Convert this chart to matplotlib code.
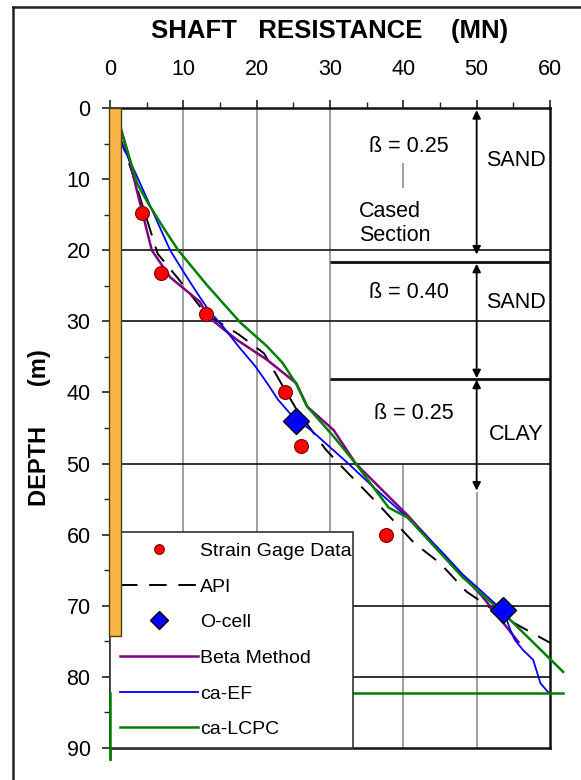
import matplotlib
matplotlib.use("Agg")
import matplotlib.pyplot as plt
from matplotlib.patches import Rectangle
from matplotlib.lines import Line2D
from matplotlib.ticker import MultipleLocator

plt.rcParams['font.family'] = ['Liberation Sans', 'DejaVu Sans']

# ---------------- data ----------------
strain_load = [4.4, 6.9, 13.1, 23.9, 26.0, 37.6]
strain_depth = [14.8, 23.2, 28.9, 40.0, 47.5, 60.1]

ocell_load = [25.4, 53.6]
ocell_depth = [44.0, 70.6]

api_load = [0, 3.0, 6.5, 9.3, 13.1, 17.5, 21.0, 23.5, 25.5, 29.4, 31.2, 36.2, 41.5, 45.0, 48.6, 54.0, 60.0]
api_depth = [0, 9.0, 20.5, 24.0, 29.0, 31.8, 34.5, 39.0, 42.5, 48.0, 50.0, 55.3, 61.2, 64.0, 68.0, 71.8, 75.2]

beta_load = [0, 1.5, 2.7, 4.0, 5.7, 8.2, 12.3, 13.3, 17.3, 21.4, 25.4, 26.9, 30.5, 33.5, 40.6, 45.6, 50.7, 55.7]
beta_depth = [0, 3.0, 7.5, 13.0, 20.0, 23.8, 27.3, 29.3, 32.6, 35.4, 38.7, 42.0, 45.3, 50.0, 57.3, 63.0, 68.6, 75.1]

ef_load = [0, 1.7, 3.5, 5.2, 6.8, 8.2, 10.0, 11.8, 13.5, 15.3, 17.5, 19.8, 21.5, 22.9, 25.0, 27.4,
           30.0, 32.5, 36.0, 39.5, 42.5, 45.6, 48.0, 50.7, 52.3, 53.6, 54.6, 55.2, 56.3, 57.7, 58.7, 59.8]
ef_depth = [0, 5.3, 9.2, 13.1, 16.8, 20.0, 23.0, 25.9, 28.5, 30.6, 33.5, 36.3, 38.8, 41.0, 43.5, 45.3,
            47.7, 50.0, 53.4, 56.6, 59.5, 62.8, 65.5, 68.0, 69.5, 70.6, 73.4, 74.8, 76.2, 77.6, 80.9, 82.2]

lcpc_load = [0, 1.5, 3.7, 5.2, 7.2, 9.3, 13.3, 17.8, 21.4, 23.5, 25.4, 26.9, 30.5, 33.5, 38.0, 40.6, 48.1, 53.6, 61.8]
lcpc_depth = [0, 3.0, 10.6, 13.4, 16.7, 20.0, 25.0, 30.2, 33.5, 35.8, 38.8, 42.0, 46.2, 50.0, 56.2, 57.6, 66.0, 71.0, 79.3]
lcpc_tail_load = [61.8, 0, 0]
lcpc_tail_depth = [82.2, 82.2, 91.5]

pile_width = 1.6
pile_length = 74.3

x_ticks = [0, 10, 20, 30, 40, 50, 60]
y_ticks = [0, 10, 20, 30, 40, 50, 60, 70, 80, 90]

# ---------------- figure ----------------
fig = plt.figure(figsize=(5.81, 7.80), dpi=100)
W, H = 581, 780
ax = fig.add_axes([110 / W, 1 - 748 / H, 440 / W, 640 / H])
ax.set_xlim(0, 60)
ax.set_ylim(90, 0)
ax.xaxis.tick_top()
ax.set_xticks(x_ticks)
ax.set_yticks(y_ticks)
ax.xaxis.set_minor_locator(MultipleLocator(5))
ax.yaxis.set_minor_locator(MultipleLocator(5))
ax.tick_params(which='major', direction='out', length=6, width=1.2, labelsize=15.5, color='#222222')
ax.tick_params(axis='x', which='major', pad=14)
ax.tick_params(axis='y', which='major', pad=8)
ax.tick_params(which='minor', direction='out', length=4, width=1.0, color='#222222')
for s in ax.spines.values():
    s.set_linewidth(1.8)
    s.set_color('#111111')

# grid lines
grid_c = '#a0a0a0'
for x in [10, 20, 30]:
    ax.axvline(x, color=grid_c, lw=1.4, zorder=1)
ax.vlines([40, 40], [7.8, 50.0], [11.3, 90], color=grid_c, lw=1.4, zorder=1)
ax.vlines([50], [54.0], [90], color=grid_c, lw=1.4, zorder=1)
for y in [20, 30, 50, 70, 80]:
    ax.axhline(y, color='#222222', lw=1.3, zorder=1.5)
ax.hlines([21.7, 38.1], 30, 60, color='#111111', lw=2.0, zorder=1.5)

# arrows
for y0, y1 in [(0.3, 20.6), (21.9, 38.0), (38.2, 53.8)]:
    ax.annotate('', xy=(50, y1), xytext=(50, y0),
                arrowprops=dict(arrowstyle='<|-|>', color='black', lw=1.3,
                                mutation_scale=12, shrinkA=0, shrinkB=0), zorder=3)

# annotations
tkw = dict(fontsize=15.5, ha='center', va='center', color='black', zorder=3)
ax.text(40.7, 5.4, 'ß = 0.25', **tkw)
ax.text(55.3, 7.4, 'SAND', **tkw)
ax.text(34.0, 16.2, 'Cased\nSection', fontsize=15.5, ha='left', va='center', linespacing=1.2, zorder=3)
ax.text(40.7, 26.0, 'ß = 0.40', **tkw)
ax.text(55.3, 27.4, 'SAND', **tkw)
ax.text(41.4, 43.0, 'ß = 0.25', **tkw)
ax.text(55.4, 45.9, 'CLAY', **tkw)

# series
l_api, = ax.plot(api_load, api_depth, color='black', lw=1.4, dashes=(9, 6), label='API', zorder=4)
l_beta, = ax.plot(beta_load, beta_depth, color='#800080', lw=1.8, label='Beta Method', zorder=4)
l_ef, = ax.plot(ef_load, ef_depth, color='#0000ff', lw=1.3, label='ca-EF', zorder=4)
l_lcpc, = ax.plot(lcpc_load, lcpc_depth, color='#008000', lw=1.8, label='ca-LCPC', zorder=4, clip_on=False)
ax.plot(lcpc_tail_load, lcpc_tail_depth, color='#008000', lw=1.8, zorder=4, clip_on=False)
ax.plot(lcpc_tail_load[1:], lcpc_tail_depth[1:], color='#008000', lw=1.8, zorder=8, clip_on=False)
l_sg, = ax.plot(strain_load, strain_depth, ls='none', marker='o', ms=10, mfc='#ff0000',
                mec='#800000', mew=0.8, label='Strain Gage Data', zorder=6)
l_oc, = ax.plot(ocell_load, ocell_depth, ls='none', marker='D', ms=13, mfc='#0000ff',
                mec='black', mew=1.0, label='O-cell', zorder=6)

# pile
ax.add_patch(Rectangle((-0.15, 0), pile_width, pile_length, fc='#f9b548', ec='#5a3c08',
                       lw=1.0, zorder=9, clip_on=False))

leg = ax.legend(handles=[l_sg, l_api, l_oc, l_beta, l_ef, l_lcpc],
                loc='lower left', bbox_to_anchor=(0, 0, 33.2 / 60, 30 / 90), mode='expand',
                borderaxespad=0, fontsize=14, handlelength=4.0, handletextpad=0.15,
                labelspacing=0.93, borderpad=0.5, markerscale=0.7, fancybox=False,
                framealpha=1, edgecolor='#333333')
leg.get_frame().set_linewidth(1.2)
leg.set_zorder(6.5)

# titles
fig.text(330 / W, 1 - 31 / H, 'SHAFT   RESISTANCE    (MN)', ha='center', va='center',
         fontsize=18.5, fontweight='bold')
ax.set_ylabel('DEPTH      (m)', fontsize=17, fontweight='bold', labelpad=11)

# outer border (left and top)
fig.add_artist(Line2D([13 / W, 13 / W], [0, 1 - 7 / H], color='#222222', lw=1.8))
fig.add_artist(Line2D([13 / W, 1], [1 - 7 / H, 1 - 7 / H], color='#222222', lw=1.8))

fig.savefig('out.png', dpi=100)
